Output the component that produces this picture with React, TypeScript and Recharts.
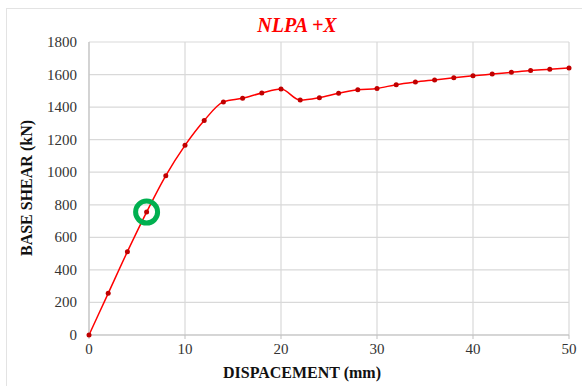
import React from 'react';
import { LineChart, Line, XAxis, YAxis, CartesianGrid, ReferenceDot, Label } from 'recharts';

const displacement = [0, 2, 4, 6, 8, 10, 12, 14, 16, 18, 20, 22, 24, 26, 28, 30, 32, 34, 36, 38, 40, 42, 44, 46, 48, 50];
const baseShear = [0, 256, 512, 755, 979, 1165, 1318, 1432, 1454, 1487, 1511, 1443, 1458, 1485, 1506, 1515, 1538, 1554, 1567, 1580, 1592, 1603, 1614, 1625, 1633, 1640];
const xTicks = [0, 10, 20, 30, 40, 50];
const yTicks = [0, 200, 400, 600, 800, 1000, 1200, 1400, 1600, 1800];
const title = 'NLPA +X';
const xLabel = 'DISPACEMENT (mm)';
const yLabel = 'BASE SHEAR (kN)';
const marked = { x: 6, y: 755 };

const data = displacement.map((d, i) => ({ d, v: baseShear[i] }));

const FONT = "'Liberation Serif', 'Times New Roman', serif";

const XTick = (props: any) => {
  const { x, y, payload } = props;
  return (
    <text x={x} y={y + 15} textAnchor="middle" fill="#333" style={{ fontFamily: FONT, fontSize: 15 }}>
      {payload.value}
    </text>
  );
};

const YTick = (props: any) => {
  const { x, y, payload } = props;
  return (
    <text x={x} y={y + 5} textAnchor="end" fill="#333" style={{ fontFamily: FONT, fontSize: 15 }}>
      {payload.value}
    </text>
  );
};

export default function App() {
  return (
    <div style={{ position: 'absolute', left: 0, top: 0, width: 582, height: 386, background: '#fff', fontFamily: FONT }}>
      <LineChart width={582} height={386} data={data} margin={{ top: 42, right: 13, bottom: 0, left: 0 }}>
        <CartesianGrid stroke="#d9d9d9" strokeWidth={1.2} />
        <XAxis
          dataKey="d"
          type="number"
          domain={[0, 50]}
          ticks={xTicks}
          height={51}
          stroke="#bfbfbf"
          tickSize={4}
          tickMargin={0}
          tick={<XTick />}
        >
          <Label
            content={() => (
              <text x={302} y={378} textAnchor="middle" fill="#111" style={{ fontFamily: FONT, fontWeight: 'bold', fontSize: 16 }}>
                {xLabel}
              </text>
            )}
          />
        </XAxis>
        <YAxis
          type="number"
          domain={[0, 1800]}
          ticks={yTicks}
          width={89}
          stroke="#bfbfbf"
          tickLine={false}
          tickSize={0}
          tickMargin={12}
          tick={<YTick />}
        >
          <Label
            content={() => (
              <text transform="translate(32,188) rotate(-90)" textAnchor="middle" fill="#111" style={{ fontFamily: FONT, fontWeight: 'bold', fontSize: 16 }}>
                {yLabel}
              </text>
            )}
          />
        </YAxis>
        <Line
          dataKey="v"
          type="monotone"
          stroke="#ff0000"
          strokeWidth={1.5}
          dot={{ r: 2.5, fill: '#c00000', stroke: 'none' }}
          isAnimationActive={false}
        />
        <ReferenceDot x={marked.x} y={marked.y} r={11} fill="none" stroke="#00b050" strokeWidth={5} />
      </LineChart>
      <svg width={582} height={386} style={{ position: 'absolute', left: 0, top: 0, pointerEvents: 'none' }}>
        <line x1={6} y1={8.5} x2={582} y2={8.5} stroke="#e3e3e3" />
        <line x1={6.5} y1={8} x2={6.5} y2={386} stroke="#e3e3e3" />
        <text x={297} y={32} textAnchor="middle" fill="#ff0000" style={{ fontFamily: FONT, fontWeight: 'bold', fontStyle: 'italic', fontSize: 20 }}>
          {title}
        </text>
      </svg>
    </div>
  );
}
